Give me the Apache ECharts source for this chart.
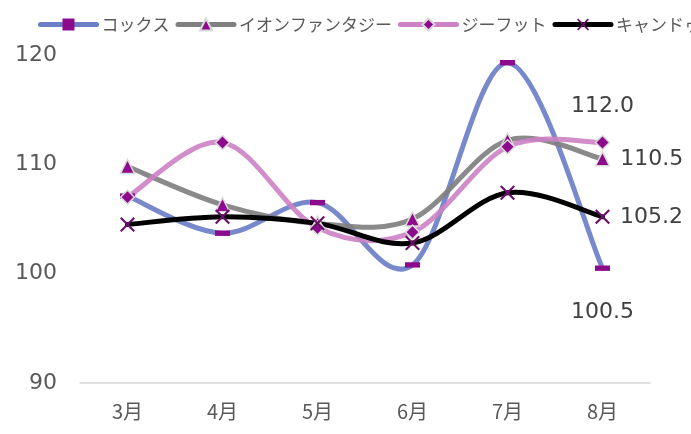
<!DOCTYPE html>
<html>
<head>
<meta charset="utf-8">
<script src="https://cdn.jsdelivr.net/npm/echarts@6/dist/echarts.min.js"></script>
<style>html,body{margin:0;padding:0;background:#fff}#c{width:691px;height:434px}</style>
</head>
<body>
<div id="c"></div>
<script>
const categories = ['3月', '4月', '5月', '6月', '7月', '8月'];
const seriesNames = ['コックス', 'イオンファンタジー', 'ジーフット', 'キャンドゥ'];
const cox = [107.1, 103.7, 106.5, 100.8, 119.3, 100.5];
const aeonFantasy = [109.8, 106.3, 104.6, 105.0, 112.2, 110.5];
const gFoot = [107.0, 112.0, 104.2, 103.8, 111.6, 112.0];
const canDo = [104.5, 105.2, 104.6, 102.8, 107.4, 105.2];
const yTicks = [90, 100, 110, 120];

const lastLabelPos = [
  {position: 'bottom', distance: 30},
  {position: 'right', distance: 10},
  {position: 'top', distance: 17},
  {position: 'right', distance: 10}
];
const labelStyle = {color: '#404040', fontSize: 22, fontFamily: 'DejaVu Sans'};
function buildData(vals, idx) {
  return vals.map((v, i) => i === vals.length - 1
    ? {value: v, label: Object.assign({show: true, formatter: p => p.value.toFixed(1)}, labelStyle, lastLabelPos[idx])}
    : v);
}
const xPath = 'path://M0,1 L1,0 L5,4 L9,0 L10,1 L6,5 L10,9 L9,10 L5,6 L1,10 L0,9 L4,5 Z';
const mk = '#8e0a8c';
const defs = [
  {vals: cox, color: '#6b7fc6', symbol: 'path://M0,0 L14,0 L14,5 L0,5 Z', size: 15, border: 0, mcolor: mk, opacity: 0.92},
  {vals: aeonFantasy, color: '#808080', symbol: 'triangle', size: 14, border: 1.5, mcolor: mk, opacity: 0.92},
  {vals: gFoot, color: '#cc82c4', symbol: 'diamond', size: 14, border: 1.5, mcolor: mk, opacity: 0.9},
  {vals: canDo, color: '#000000', symbol: xPath, size: 15, border: 0, mcolor: '#6a0f68', opacity: 1}
];

// Excel-like smoothed curve (Catmull-Rom style Bezier) through points given by the axis scales
function smoothPath(pts) {
  let d = 'M' + pts[0][0] + ',' + pts[0][1];
  for (let i = 0; i < pts.length - 1; i++) {
    const p0 = pts[i - 1] || pts[i];
    const p1 = pts[i];
    const p2 = pts[i + 1];
    const p3 = pts[i + 2] || pts[i + 1];
    const c1x = p1[0] + (p2[0] - p0[0]) / 6, c1y = p1[1] + (p2[1] - p0[1]) / 6;
    const c2x = p2[0] - (p3[0] - p1[0]) / 6, c2y = p2[1] - (p3[1] - p1[1]) / 6;
    d += ' C' + c1x + ',' + c1y + ' ' + c2x + ',' + c2y + ' ' + p2[0] + ',' + p2[1];
  }
  return d;
}

const curveSeries = defs.map((d, si) => ({
  type: 'custom',
  data: d.vals.map((v, i) => [i, v]),
  encode: {x: 0, y: 1},
  silent: true,
  z: 2 + si * 0.1,
  renderItem: function (params, api) {
    if (params.dataIndex !== 0) return null;
    const pts = d.vals.map((v, i) => api.coord([i, v]));
    return {
      type: 'path',
      shape: {pathData: smoothPath(pts)},
      style: {fill: 'none', stroke: d.color, lineWidth: 5, lineCap: 'round', lineJoin: 'round', opacity: d.opacity}
    };
  }
}));

const markerSeries = defs.map((d, i) => ({
  name: seriesNames[i], type: 'line',
  data: buildData(d.vals, i),
  symbol: d.symbol, symbolSize: d.size, symbolKeepAspect: true,
  lineStyle: {color: d.color, width: 5, opacity: 0},
  itemStyle: {color: d.mcolor, borderColor: '#d9d9d9', borderWidth: d.border},
  emphasis: {disabled: true},
  z: 4
}));

const chart = echarts.init(document.getElementById('c'), null, {renderer: 'canvas'});
chart.setOption({
  animation: false,
  legend: {
    left: 38, top: 16, width: 900, padding: 0,
    itemWidth: 56, itemHeight: 15, itemGap: 6,
    lineStyle: {width: 5, opacity: 1, cap: 'round'},
    textStyle: {color: '#595959', fontSize: 17, fontFamily: 'Noto Sans CJK JP'},
    data: seriesNames
  },
  grid: {left: 80, right: 41, top: 55, bottom: 51},
  xAxis: {
    type: 'category', data: categories, boundaryGap: true,
    axisLine: {lineStyle: {color: '#d9d9d9', width: 1.5}},
    axisTick: {show: false},
    axisLabel: {color: '#595959', fontSize: 20, fontFamily: 'Noto Sans CJK JP', margin: 18}
  },
  yAxis: {
    type: 'value', min: yTicks[0], max: yTicks[yTicks.length - 1], interval: 10,
    axisLine: {show: false}, axisTick: {show: false}, splitLine: {show: false},
    axisLabel: {color: '#595959', fontSize: 22, fontFamily: 'DejaVu Sans', margin: 23}
  },
  series: curveSeries.concat(markerSeries)
});
</script>
</body>
</html>
